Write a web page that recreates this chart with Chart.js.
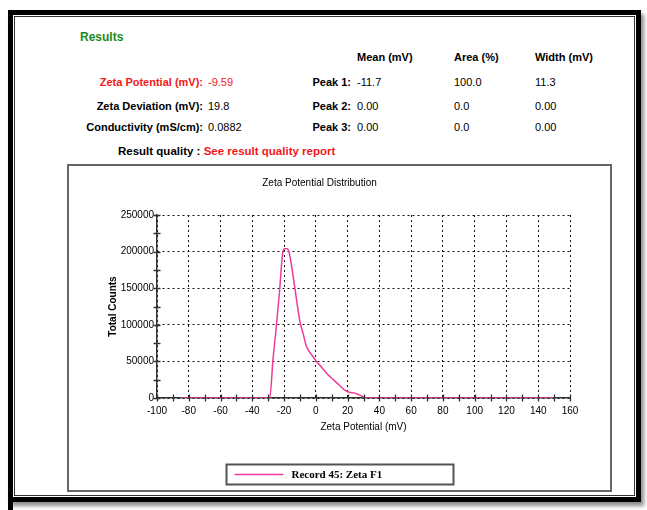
<!DOCTYPE html>
<html>
<head>
<meta charset="utf-8">
<script src="https://cdn.jsdelivr.net/npm/chart.js@4.4.1/dist/chart.umd.min.js"></script>
<style>
  html, body { margin: 0; padding: 0; background: #fff; }
  body {
    width: 647px; height: 510px; position: relative; overflow: hidden;
    font-family: "Liberation Sans", Arial, sans-serif;
  }
  #frame {
    position: absolute; left: 8px; top: 10px; width: 623px; height: 482px;
    border: 5px solid #000;
    box-shadow: inset 0 0 0 1px #fff, inset 0 0 0 2px #333, 3px 4px 4px rgba(0,0,0,.45);
  }
  #edge { position: absolute; left: 8px; top: 10px; width: 5px; height: 500px; background: #000; }
  #chartBox {
    position: absolute; left: 67px; top: 164px; width: 541px; height: 324px;
    border: 2px solid #666; background: #fff;
  }
  #chartBox canvas { display: block; }
  .t { position: absolute; white-space: nowrap; font-size: 11px; line-height: 14px; color: #000; }
  .b { font-weight: bold; }
  .red { color: #f01818; }
  .green { color: #1c8a1c; font-size: 12px; }
  .r { text-align: right; }
</style>
</head>
<body>
<div id="frame"></div>
<div id="edge"></div>

<div class="t b green" style="left:80px; top:30px;">Results</div>

<div class="t b" style="left:357px; top:50px;">Mean (mV)</div>
<div class="t b" style="left:454px; top:50px;">Area (%)</div>
<div class="t b" style="left:535px; top:50px;">Width (mV)</div>

<div class="t b red r" style="right:444px; top:75px;">Zeta Potential (mV):</div>
<div class="t red" style="left:208px; top:75px;">-9.59</div>
<div class="t b r" style="right:296px; top:75px;">Peak 1:</div>
<div class="t" style="left:357px; top:75px;">-11.7</div>
<div class="t" style="left:454px; top:75px;">100.0</div>
<div class="t" style="left:535px; top:75px;">11.3</div>

<div class="t b r" style="right:444px; top:99px;">Zeta Deviation (mV):</div>
<div class="t" style="left:208px; top:99px;">19.8</div>
<div class="t b r" style="right:296px; top:99px;">Peak 2:</div>
<div class="t" style="left:357px; top:99px;">0.00</div>
<div class="t" style="left:454px; top:99px;">0.0</div>
<div class="t" style="left:535px; top:99px;">0.00</div>

<div class="t b r" style="right:444px; top:120px;">Conductivity (mS/cm):</div>
<div class="t" style="left:208px; top:120px;">0.0882</div>
<div class="t b r" style="right:296px; top:120px;">Peak 3:</div>
<div class="t" style="left:357px; top:120px;">0.00</div>
<div class="t" style="left:454px; top:120px;">0.0</div>
<div class="t" style="left:535px; top:120px;">0.00</div>

<div class="t b" style="left:118px; top:143px; font-size:11.5px; line-height:16px;">Result quality : <span class="red">See result quality report</span></div>

<div id="chartBox"><canvas id="c" width="541" height="324"></canvas></div>

<script>
// Zeta potential distribution (mV) and total counts
const zeta = [-85, -80, -70, -60, -50, -40, -30, -29, -27, -25, -23, -21, -20, -18, -17, -16, -14, -12, -10, -8,
              -6, -4, -2, 0, 2, 4, 6, 8, 10, 12, 14, 16, 18, 20, 22, 24, 26, 28, 30, 32,
              40, 60, 80, 100, 120, 140, 150];
const counts = [0, 0, 0, 0, 0, 0, 0, 0, 52000, 95000, 142000, 196000, 204000, 204000, 200000, 190000, 162000, 132000, 104000, 88000,
                71000, 63000, 57000, 51000, 46000, 41000, 36000, 31000, 27000, 23000, 19000, 15000, 11000, 8500, 7500, 7000, 5500, 3500, 1500, 0,
                0, 0, 0, 0, 0, 0, 0];

const xTickLabels = [-100, -80, -60, -40, -20, 0, 20, 40, 60, 80, 100, 120, 140, 160];
const yTickLabels = [0, 50000, 100000, 150000, 200000, 250000];

const seriesName = 'Record 45: Zeta F1';
const lineColor = '#f0399b';
const FONT = '"Liberation Sans", Arial, sans-serif';

Chart.defaults.font.family = FONT;
Chart.defaults.color = '#000';

// Small cross-axis tick marks at every minor step
const axisTicks = {
  id: 'axisTicks',
  afterDatasetsDraw(chart) {
    const { ctx, scales: { x, y } } = chart;
    const yb = y.getPixelForValue(0);
    const xl = x.getPixelForValue(-100);
    ctx.save();
    ctx.strokeStyle = '#333';
    ctx.lineWidth = 1.3;
    ctx.beginPath();
    x.ticks.forEach(t => {
      const px = Math.round(x.getPixelForValue(t.value)) + 0.5;
      ctx.moveTo(px, yb - 3.5);
      ctx.lineTo(px, yb + 3.5);
    });
    y.ticks.forEach(t => {
      const py = Math.round(y.getPixelForValue(t.value)) + 0.5;
      ctx.moveTo(xl - 3.5, py);
      ctx.lineTo(xl + 3.5, py);
    });
    ctx.stroke();
    ctx.restore();
  }
};

// Boxed legend at the foot of the chart
const boxedLegend = {
  id: 'boxedLegend',
  afterDraw(chart) {
    const { ctx, width, height } = chart;
    const ds = chart.data.datasets[0];
    const bw = 227, bh = 20;
    const bx = Math.round((width - bw) / 2) + 0.5;
    const by = height - 26 + 0.5;
    ctx.save();
    ctx.strokeStyle = '#555';
    ctx.lineWidth = 2;
    ctx.strokeRect(bx, by, bw, bh);
    ctx.strokeStyle = ds.borderColor;
    ctx.lineWidth = 1.5;
    ctx.beginPath();
    ctx.moveTo(bx + 8, by + bh / 2);
    ctx.lineTo(bx + 57, by + bh / 2);
    ctx.stroke();
    ctx.fillStyle = '#000';
    ctx.font = 'bold 11px "Liberation Serif", "DejaVu Serif", serif';
    ctx.textBaseline = 'middle';
    ctx.fillText(ds.label, bx + 65, by + bh / 2 + 0.5);
    ctx.restore();
  }
};

new Chart(document.getElementById('c'), {
  type: 'line',
  data: {
    datasets: [{
      label: seriesName,
      data: zeta.map((v, i) => ({ x: v, y: counts[i] })),
      borderColor: lineColor,
      borderWidth: 1.5,
      pointRadius: 0,
      fill: false,
      cubicInterpolationMode: 'monotone'
    }]
  },
  options: {
    responsive: false,
    animation: false,
    events: [],
    layout: { padding: { left: 0, right: 40, top: 0, bottom: 57 } },
    plugins: {
      legend: { display: false },
      tooltip: { enabled: false },
      title: {
        display: true,
        text: 'Zeta Potential Distribution',
        color: '#000',
        font: { size: 10, weight: 'normal' },
        padding: { top: 11, bottom: 26 }
      }
    },
    scales: {
      x: {
        type: 'linear',
        min: -100,
        max: 160,
        afterFit(s) { s.height = 35; },
        ticks: {
          stepSize: 10,
          autoSkip: false,
          maxRotation: 0,
          padding: 7,
          color: '#000',
          font: { size: 10 },
          callback: v => xTickLabels.includes(v) ? String(v) : ''
        },
        grid: {
          drawTicks: false,
          lineWidth: 1,
          color: c => (c.tick && xTickLabels.includes(c.tick.value)) ? '#111' : 'rgba(0,0,0,0)'
        },
        border: { color: '#333', width: 1.5, dash: [2, 3] },
        title: {
          display: true,
          text: 'Zeta Potential (mV)',
          color: '#000',
          font: { size: 10 },
          padding: { top: 0, bottom: 0 }
        }
      },
      y: {
        type: 'linear',
        min: 0,
        max: 250000,
        afterFit(s) { s.width = 88; },
        ticks: {
          stepSize: 25000,
          autoSkip: false,
          padding: 3,
          color: '#000',
          font: { size: 10 },
          callback: v => yTickLabels.includes(v) ? String(v) : ''
        },
        grid: {
          drawTicks: false,
          lineWidth: 1,
          color: c => (c.tick && yTickLabels.includes(c.tick.value)) ? '#111' : 'rgba(0,0,0,0)'
        },
        border: { color: '#333', width: 1.5, dash: [2, 3] },
        title: {
          display: true,
          text: 'Total Counts',
          color: '#000',
          font: { size: 10, weight: 'bold' },
          padding: { top: 38, bottom: 0 }
        }
      }
    }
  },
  plugins: [axisTicks, boxedLegend]
});
</script>
</body>
</html>
